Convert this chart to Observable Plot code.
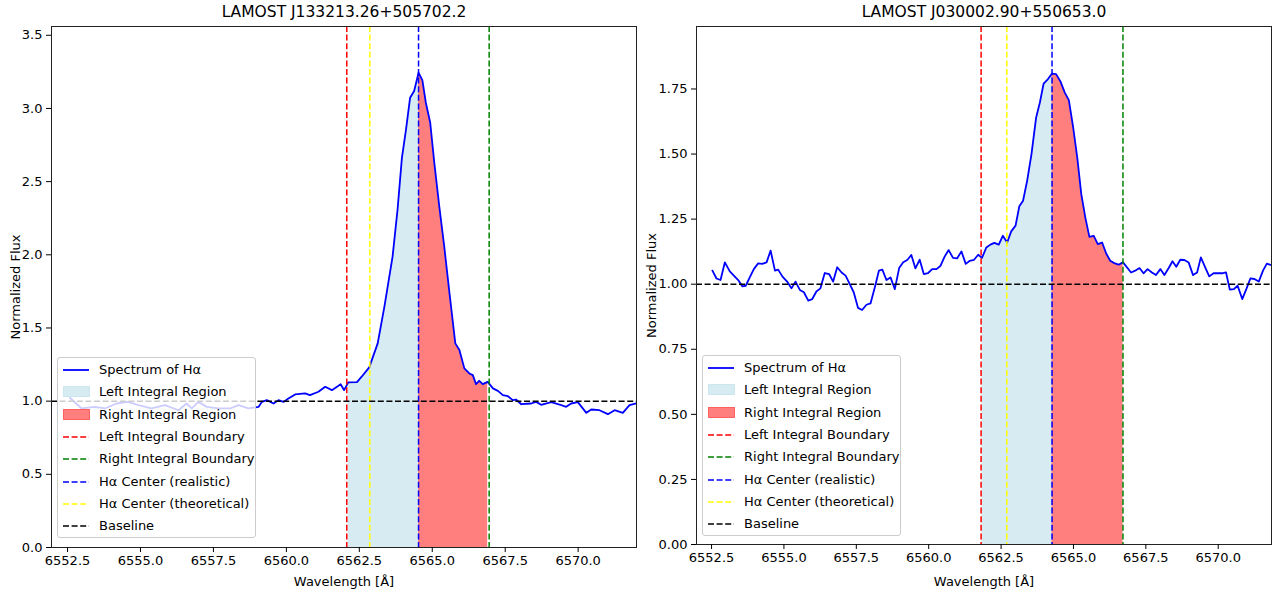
<!DOCTYPE html>
<html><head><meta charset="utf-8">
<script src="https://cdn.jsdelivr.net/npm/d3@7"></script>
<script src="https://cdn.jsdelivr.net/npm/@observablehq/plot@0.6"></script>
<style>
body{margin:0;background:#fff;}
#wrap{position:relative;width:1277px;height:597px;font-family:"DejaVu Sans",sans-serif;overflow:hidden;}
.panel{position:absolute;top:0;}
.legend{position:absolute;background:rgba(255,255,255,0.8);border:1px solid #cccccc;border-radius:3px;box-sizing:border-box;}
.row{position:absolute;left:0;height:22px;display:flex;align-items:center;font-size:13px;color:#000;white-space:nowrap;}
.row svg{position:absolute;left:5px;top:0;}
.row span{position:absolute;left:41px;line-height:22px;}
</style></head><body><div id="wrap"></div>
<script>
// ---------- data ----------
const leftTitle = "LAMOST J133213.26+505702.2";
const rightTitle = "LAMOST J030002.90+550653.0";

const leftWave = [6552.58, 6552.98, 6553.44, 6553.78, 6554.18, 6554.58, 6554.93, 6555.38, 6555.84, 6556.30,
  6556.58, 6556.76, 6556.98, 6557.27, 6557.67, 6558.07, 6558.36, 6558.70, 6559.05, 6559.16,
  6559.33, 6559.56, 6559.73, 6559.90, 6560.07, 6560.30, 6560.64, 6560.81, 6561.10, 6561.33,
  6561.56, 6561.86, 6561.98, 6562.12, 6562.42, 6562.58, 6562.84, 6563.13, 6563.36, 6563.64,
  6563.81, 6563.96, 6564.10, 6564.24, 6564.38, 6564.53, 6564.66, 6564.78, 6564.93, 6565.07,
  6565.24, 6565.41, 6565.59, 6565.79, 6565.93, 6566.10, 6566.27, 6566.39, 6566.50, 6566.61,
  6566.73, 6566.90, 6567.08, 6567.25, 6567.42, 6567.59, 6567.76, 6567.87, 6568.05, 6568.39,
  6568.56, 6568.73, 6569.08, 6569.36, 6569.59, 6569.76, 6569.99, 6570.28, 6570.45, 6570.73,
  6571.02, 6571.25, 6571.53, 6571.76, 6571.99];
const leftFlux = [1.023, 0.950, 0.961, 0.950, 0.984, 0.995, 0.973, 0.950, 0.973, 0.938,
  0.984, 0.950, 0.995, 0.961, 0.950, 0.950, 0.973, 0.950, 0.961, 0.995,
  1.007, 0.984, 1.007, 0.995, 1.018, 1.046, 1.053, 1.041, 1.064, 1.098,
  1.075, 1.115, 1.075, 1.128, 1.130, 1.167, 1.231, 1.395, 1.646, 1.988,
  2.308, 2.662, 2.856, 3.073, 3.119, 3.244, 3.194, 3.039, 2.902, 2.628,
  2.331, 2.057, 1.738, 1.395, 1.349, 1.224, 1.189, 1.178, 1.116, 1.139,
  1.116, 1.132, 1.087, 1.070, 1.041, 1.034, 1.007, 1.011, 0.979, 0.984,
  0.995, 0.975, 0.993, 0.977, 0.961, 0.984, 0.993, 0.920, 0.943, 0.938,
  0.911, 0.938, 0.920, 0.973, 0.984];

const rightWave = [6552.53, 6552.67, 6552.81, 6552.96, 6553.13, 6553.27, 6553.42, 6553.56, 6553.68, 6553.82,
  6553.96, 6554.11, 6554.25, 6554.40, 6554.54, 6554.69, 6554.80, 6554.95, 6555.11, 6555.26,
  6555.40, 6555.55, 6555.69, 6555.84, 6555.98, 6556.12, 6556.26, 6556.41, 6556.56, 6556.70,
  6556.84, 6556.99, 6557.13, 6557.27, 6557.41, 6557.56, 6557.70, 6557.85, 6557.99, 6558.14,
  6558.28, 6558.40, 6558.54, 6558.68, 6558.83, 6558.98, 6559.12, 6559.26, 6559.40, 6559.54,
  6559.69, 6559.83, 6559.98, 6560.12, 6560.27, 6560.41, 6560.55, 6560.69, 6560.84, 6560.98,
  6561.13, 6561.28, 6561.42, 6561.56, 6561.71, 6561.84, 6561.99, 6562.13, 6562.27, 6562.42,
  6562.56, 6562.71, 6562.85, 6563.00, 6563.13, 6563.26, 6563.40, 6563.55, 6563.71, 6563.84,
  6563.97, 6564.12, 6564.26, 6564.40, 6564.55, 6564.70, 6564.84, 6564.99, 6565.13, 6565.27,
  6565.41, 6565.55, 6565.70, 6565.84, 6565.99, 6566.13, 6566.27, 6566.41, 6566.56, 6566.71,
  6566.99, 6567.13, 6567.28, 6567.42, 6567.56, 6567.71, 6567.85, 6568.00, 6568.14, 6568.29,
  6568.42, 6568.55, 6568.69, 6568.83, 6568.98, 6569.13, 6569.27, 6569.40, 6569.55, 6569.69,
  6569.84, 6569.98, 6570.13, 6570.27, 6570.40, 6570.54, 6570.67, 6570.83, 6570.97, 6571.11,
  6571.25, 6571.40, 6571.55, 6571.68, 6571.80];
const rightFlux = [1.052, 1.022, 1.016, 1.084, 1.049, 1.033, 1.016, 0.992, 0.994, 1.026,
  1.058, 1.080, 1.078, 1.084, 1.129, 1.052, 1.056, 1.029, 1.010, 0.984,
  1.010, 0.978, 0.969, 0.937, 0.943, 0.972, 0.984, 1.043, 1.039, 1.010,
  1.065, 1.045, 1.033, 1.001, 0.969, 0.909, 0.901, 0.921, 0.926, 0.988,
  1.052, 1.056, 1.016, 1.026, 0.981, 1.062, 1.084, 1.093, 1.112, 1.061,
  1.094, 1.039, 1.043, 1.058, 1.058, 1.071, 1.106, 1.131, 1.101, 1.099,
  1.126, 1.078, 1.090, 1.093, 1.113, 1.101, 1.141, 1.152, 1.159, 1.152,
  1.186, 1.160, 1.203, 1.225, 1.299, 1.321, 1.397, 1.500, 1.640, 1.698,
  1.771, 1.788, 1.809, 1.807, 1.779, 1.736, 1.707, 1.602, 1.487, 1.346,
  1.256, 1.182, 1.186, 1.154, 1.160, 1.118, 1.090, 1.081, 1.075, 1.084,
  1.045, 1.052, 1.062, 1.042, 1.058, 1.045, 1.035, 1.058, 1.035, 1.062,
  1.088, 1.067, 1.094, 1.093, 1.083, 1.035, 1.045, 1.103, 1.065, 1.030,
  1.042, 1.042, 1.042, 1.045, 0.979, 0.981, 0.994, 0.943, 0.981, 1.022,
  1.020, 1.010, 1.053, 1.079, 1.074];

// boundaries: [left boundary, right boundary, realistic centre, theoretical centre]
const leftBounds = [6562.07, 6566.95, 6564.53, 6562.86];
const rightBounds = [6561.81, 6566.71, 6564.26, 6562.70];
const baselineValue = 1.0;

const xTicks = [6552.5, 6555.0, 6557.5, 6560.0, 6562.5, 6565.0, 6567.5, 6570.0];
const leftYTicks = [0, 0.5, 1.0, 1.5, 2.0, 2.5, 3.0, 3.5];
const rightYTicks = [0, 0.25, 0.5, 0.75, 1.0, 1.25, 1.5, 1.75];

const legendLabels = ["Spectrum of H\u03b1", "Left Integral Region", "Right Integral Region",
  "Left Integral Boundary", "Right Integral Boundary", "H\u03b1 Center (realistic)",
  "H\u03b1 Center (theoretical)", "Baseline"];
const legendKinds = ["line", "patch", "patch", "dash", "dash", "dash", "dash", "dash"];
const legendColors = ["#0000ff", "#add8e6", "#ff0000", "#ff0000", "#008000", "#0000ff", "#ffff00", "#000000"];

const xLabel = "Wavelength [\u00c5]";
const yLabel = "Normalized Flux";

// ---------- drawing ----------
const DASH = "6,2.6";
const wrap = document.getElementById("wrap");

function panel(o) {
  const spec = o.wave.map((w, i) => ({w, f: o.flux[i]}));
  const [red, green, blue, yellow] = o.bounds;
  const lf = spec.filter(d => d.w >= red && d.w <= blue);
  const rf = spec.filter(d => d.w >= blue && d.w <= green);
  const svg = Plot.plot({
    width: o.width, height: o.height,
    marginLeft: o.ml, marginRight: o.mr, marginTop: o.mt, marginBottom: o.mb,
    style: {fontFamily: "DejaVu Sans", fontSize: "13px", background: "white", color: "black", overflow: "visible"},
    x: {domain: o.xDomain},
    y: {domain: o.yDomain},
    marks: [
      Plot.areaY(lf, {x: "w", y: "f", fill: legendColors[1], fillOpacity: 0.5}),
      Plot.areaY(rf, {x: "w", y: "f", fill: legendColors[2], fillOpacity: 0.5}),
      Plot.line(spec, {x: "w", y: "f", stroke: legendColors[0], strokeWidth: 1.8}),
      Plot.ruleX([red], {stroke: legendColors[3], strokeWidth: 1.5, strokeDasharray: DASH}),
      Plot.ruleX([green], {stroke: legendColors[4], strokeWidth: 1.5, strokeDasharray: DASH}),
      Plot.ruleX([blue], {stroke: legendColors[5], strokeWidth: 1.5, strokeDasharray: DASH}),
      Plot.ruleX([yellow], {stroke: legendColors[6], strokeWidth: 1.5, strokeDasharray: DASH}),
      Plot.ruleY([baselineValue], {stroke: legendColors[7], strokeWidth: 1.5, strokeDasharray: DASH}),
      Plot.frame({stroke: "#222", strokeWidth: 1}),
      Plot.axisX({ticks: xTicks, tickFormat: d3.format(".1f"), tickSize: 5, tickPadding: 3, label: null, fontSize: 13}),
      Plot.axisY({ticks: o.yTicks, tickFormat: d3.format(o.yFmt), tickSize: 5, tickPadding: 4, label: null, fontSize: 13}),
      Plot.text([o.title], {frameAnchor: "top", lineAnchor: "middle", dy: -14, fontSize: 15.5, fill: "black"}),
      Plot.text([xLabel], {frameAnchor: "bottom", lineAnchor: "middle", dy: o.xlabDy, fontSize: 13, fill: "black"}),
      Plot.text([yLabel], {frameAnchor: "left", lineAnchor: "middle", textAnchor: "middle", dx: o.ylabDx, rotate: -90, fontSize: 13, fill: "black"})
    ]
  });
  const holder = document.createElement("div");
  holder.className = "panel";
  holder.style.left = o.left + "px";
  holder.appendChild(svg);
  wrap.appendChild(holder);

  // legend (semi-transparent white box over the plot, like matplotlib)
  const lg = document.createElement("div");
  lg.className = "legend";
  lg.style.left = o.legLeft + "px";
  lg.style.top = o.legTop + "px";
  lg.style.width = "199px";
  lg.style.height = "181px";
  legendLabels.forEach((lab, i) => {
    const row = document.createElement("div");
    row.className = "row";
    row.style.top = (1 + 22.3 * i) + "px";
    row.style.width = "197px";
    const kind = legendKinds[i], col = legendColors[i];
    let handle;
    if (kind === "patch") {
      handle = `<svg width="27" height="22"><rect x="0.5" y="5.5" width="26" height="10" fill="${col}" fill-opacity="0.5" stroke="${col}" stroke-opacity="0.5" stroke-width="1"/></svg>`;
    } else if (kind === "line") {
      handle = `<svg width="27" height="22"><line x1="0" x2="26" y1="11" y2="11" stroke="${col}" stroke-width="1.8"/></svg>`;
    } else {
      handle = `<svg width="27" height="22"><line x1="0" x2="26" y1="11" y2="11" stroke="${col}" stroke-width="1.5" stroke-dasharray="${DASH}"/></svg>`;
    }
    row.innerHTML = handle + `<span>${lab}</span>`;
    lg.appendChild(row);
  });
  wrap.appendChild(lg);
}

panel({wave: leftWave, flux: leftFlux, bounds: leftBounds, title: leftTitle,
  yDomain: [0, 3.56], yTicks: leftYTicks, yFmt: ".1f",
  xDomain: [6551.95, 6572.0], width: 640, height: 597, ml: 51, mr: 4, mt: 26, mb: 50,
  left: 0, xlabDy: 34, ylabDx: -36, legLeft: 57, legTop: 357});

panel({wave: rightWave, flux: rightFlux, bounds: rightBounds, title: rightTitle,
  yDomain: [0, 1.99], yTicks: rightYTicks, yFmt: ".2f",
  xDomain: [6551.98, 6571.84], width: 637, height: 597, ml: 56, mr: 6, mt: 26, mb: 53,
  left: 640, xlabDy: 37, ylabDx: -45, legLeft: 702, legTop: 355});
</script>
</body></html>
